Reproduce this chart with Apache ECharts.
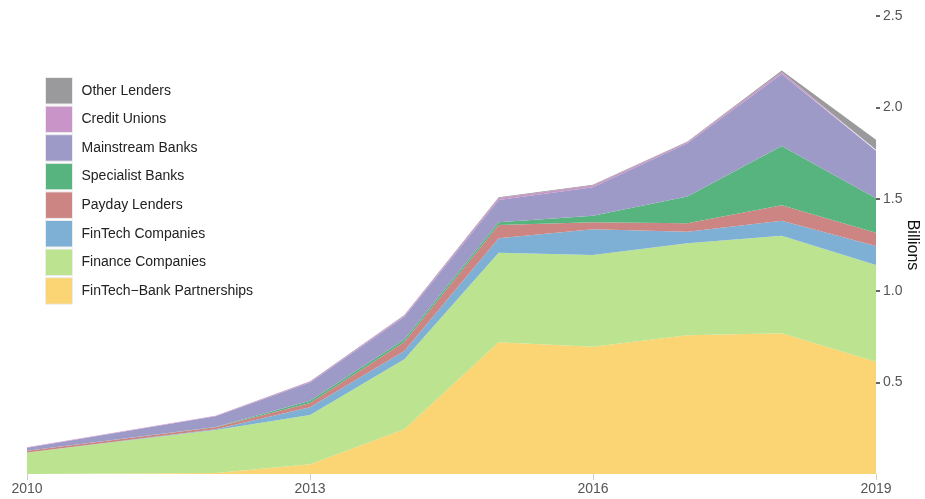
<!DOCTYPE html>
<html>
<head>
<meta charset="utf-8">
<script src="https://cdn.jsdelivr.net/npm/echarts@6/dist/echarts.min.js"></script>
<style>
  html, body { margin: 0; padding: 0; background: #fff; }
  #chart { width: 925px; height: 499px; }
</style>
</head>
<body>
<div id="chart"></div>
<script>
  // years with data points (no 2011 point in the source)
  const years = [2010, 2012, 2013, 2014, 2015, 2016, 2017, 2018, 2019];
  const yearTicks = [2010, 2013, 2016, 2019];
  const valueTicks = [0.5, 1.0, 1.5, 2.0, 2.5];

  // billions, stacked bottom to top
  const fintechBank = [0, 0.005, 0.053, 0.244, 0.719, 0.695, 0.757, 0.768, 0.613];
  const financeCos = [0.118, 0.235, 0.269, 0.382, 0.489, 0.5, 0.502, 0.533, 0.528];
  const fintechCos = [0, 0.004, 0.042, 0.045, 0.079, 0.141, 0.064, 0.082, 0.104];
  const payday = [0.009, 0.011, 0.024, 0.05, 0.072, 0.038, 0.046, 0.084, 0.072];
  const specialist = [0, 0.002, 0.012, 0.013, 0.015, 0.036, 0.146, 0.323, 0.188];
  const mainstream = [0.016, 0.058, 0.1, 0.125, 0.122, 0.155, 0.291, 0.393, 0.26];
  const creditUnions = [0.003, 0.003, 0.005, 0.006, 0.01, 0.01, 0.006, 0.012, 0.005];
  const otherLenders = [0, 0, 0.001, 0.003, 0.004, 0.004, 0.003, 0.008, 0.055];

  const seriesNames = [
    "FinTech\u2212Bank Partnerships",
    "Finance Companies",
    "FinTech Companies",
    "Payday Lenders",
    "Specialist Banks",
    "Mainstream Banks",
    "Credit Unions",
    "Other Lenders"
  ];
  const seriesData = [fintechBank, financeCos, fintechCos, payday, specialist, mainstream, creditUnions, otherLenders];
  const colors = ["#fbd473", "#bce390", "#7eb0d5", "#cc8582", "#57b47e", "#9e9ac8", "#c994c7", "#9a999b"];

  const font = "'Liberation Sans', Arial, sans-serif";
  const yearTime = y => Date.UTC(y, 0, 1);

  let myChart = echarts.init(document.getElementById("chart"));

  let series = seriesNames.map((name, i) => ({
    name: name,
    type: "line",
    stack: "total",
    xAxisIndex: 0,
    showSymbol: false,
    symbol: "none",
    lineStyle: { width: 0 },
    areaStyle: { color: colors[i], opacity: 1 },
    itemStyle: { color: colors[i] },
    data: years.map((y, j) => [yearTime(y), seriesData[i][j]])
  }));

  let option = {
    animation: false,
    textStyle: { fontFamily: font },
    grid: {
      left: 27,
      right: 49,
      top: 16,
      bottom: 25,
      outerBoundsMode: "none",
      containLabel: false
    },
    legend: {
      orient: "vertical",
      left: 40,
      top: 72,
      itemWidth: 27,
      itemHeight: 26.5,
      itemGap: 1.1,
      icon: "rect",
      data: seriesNames.slice().reverse(),
      itemStyle: { borderColor: "#ececec", borderWidth: 1 },
      textStyle: {
        fontFamily: font,
        fontSize: 14,
        color: "#222",
        padding: [0, 0, 0, 4]
      }
    },
    xAxis: [
      {
        // data axis
        type: "time",
        min: yearTime(years[0]),
        max: yearTime(years[years.length - 1]),
        show: false
      },
      {
        // label axis
        type: "value",
        position: "bottom",
        min: yearTicks[0],
        max: yearTicks[yearTicks.length - 1],
        interval: 3,
        axisLine: { show: false },
        axisTick: {
          show: true,
          length: 6,
          lineStyle: { color: "#cccccc", width: 1 }
        },
        splitLine: { show: false },
        axisLabel: {
          color: "#555",
          fontSize: 14,
          margin: 8,
          fontFamily: font,
          formatter: v => String(v)
        }
      }
    ],
    yAxis: {
      type: "value",
      position: "right",
      min: 0,
      max: 2.5,
      interval: 0.5,
      name: "Billions",
      nameLocation: "middle",
      nameRotate: -90,
      nameGap: 36,
      nameMoveOverlap: false,
      nameTextStyle: {
        fontSize: 16,
        color: "#111",
        fontFamily: font,
        align: "center",
        verticalAlign: "middle"
      },
      axisLine: { show: false },
      axisTick: {
        show: true,
        length: 4,
        customValues: valueTicks,
        lineStyle: { color: "#333", width: 1.5 }
      },
      splitLine: { show: false },
      axisLabel: {
        color: "#555",
        fontSize: 14,
        margin: 7,
        fontFamily: font,
        customValues: valueTicks,
        formatter: v => v.toFixed(1)
      }
    },
    series: series
  };

  myChart.setOption(option);
</script>
</body>
</html>
